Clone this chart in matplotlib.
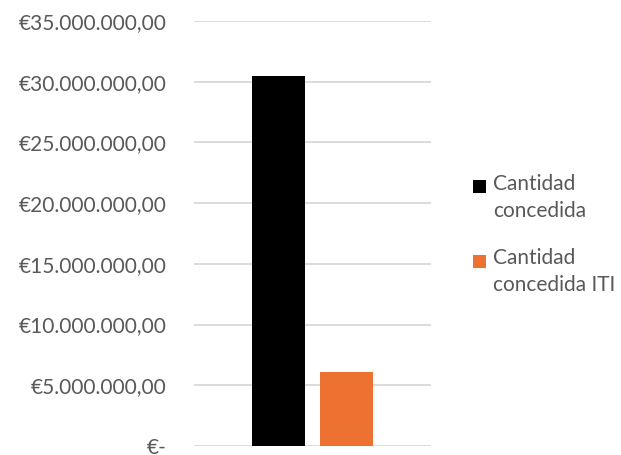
import matplotlib
matplotlib.use("Agg")
import matplotlib.pyplot as plt
from matplotlib.ticker import FuncFormatter
from matplotlib.patches import Rectangle
from matplotlib.legend_handler import HandlerPatch

series_labels = ["Cantidad\nconcedida", "Cantidad\nconcedida ITI"]
values = [30480000, 6100000]
colors = ["#000000", "#ED7131"]
y_ticks = [0, 5e6, 10e6, 15e6, 20e6, 25e6, 30e6, 35e6]

plt.rcParams['font.family'] = ['Lato', 'DejaVu Sans']
text_color = "#595959"

fig = plt.figure(figsize=(6.21, 4.55), dpi=100)
ax = fig.add_axes([194/621, 1-446/455, (431-194)/621, (446-21)/455])

positions = [-0.5, 0.5]
bars = []
for p, v, c, lab in zip(positions, values, colors, series_labels):
    bars.append(ax.bar(p, v, width=0.79, color=c, label=lab, zorder=3))

ax.set_xlim(-1.755, 1.755)
ax.set_ylim(0, 35e6)
ax.set_yticks(y_ticks)

def fmt(v, pos):
    if v == 0:
        return "€-"
    s = f"{v:,.2f}"
    s = s.replace(",", "X").replace(".", ",").replace("X", ".")
    return "€" + s

ax.yaxis.set_major_formatter(FuncFormatter(fmt))
ax.tick_params(axis='y', length=0, pad=20, labelsize=15, labelcolor=text_color)
ax.set_xticks([])
ax.grid(axis='y', color="#d9d9d9", linewidth=1.3, zorder=0)
for s in ax.spines.values():
    s.set_visible(False)

def top_square(legend, orig_handle, xdescent, ydescent, width, height, fontsize):
    return Rectangle((-xdescent, -ydescent + height - width + 0.5), width, width)

fs = 15
handles = [b.patches[0] for b in bars]
leg = fig.legend(handles, series_labels, loc='upper left',
                 bbox_to_anchor=(473/621, 1-174/455), frameon=False,
                 fontsize=fs, labelcolor=text_color, handlelength=0.62, handleheight=2.3,
                 handletextpad=0.33, labelspacing=1.3, borderaxespad=0, borderpad=0,
                 handler_map={Rectangle: HandlerPatch(patch_func=top_square)})
for t in leg.get_texts():
    t.set_linespacing(1.45)

fig.savefig("out.png", dpi=100)
